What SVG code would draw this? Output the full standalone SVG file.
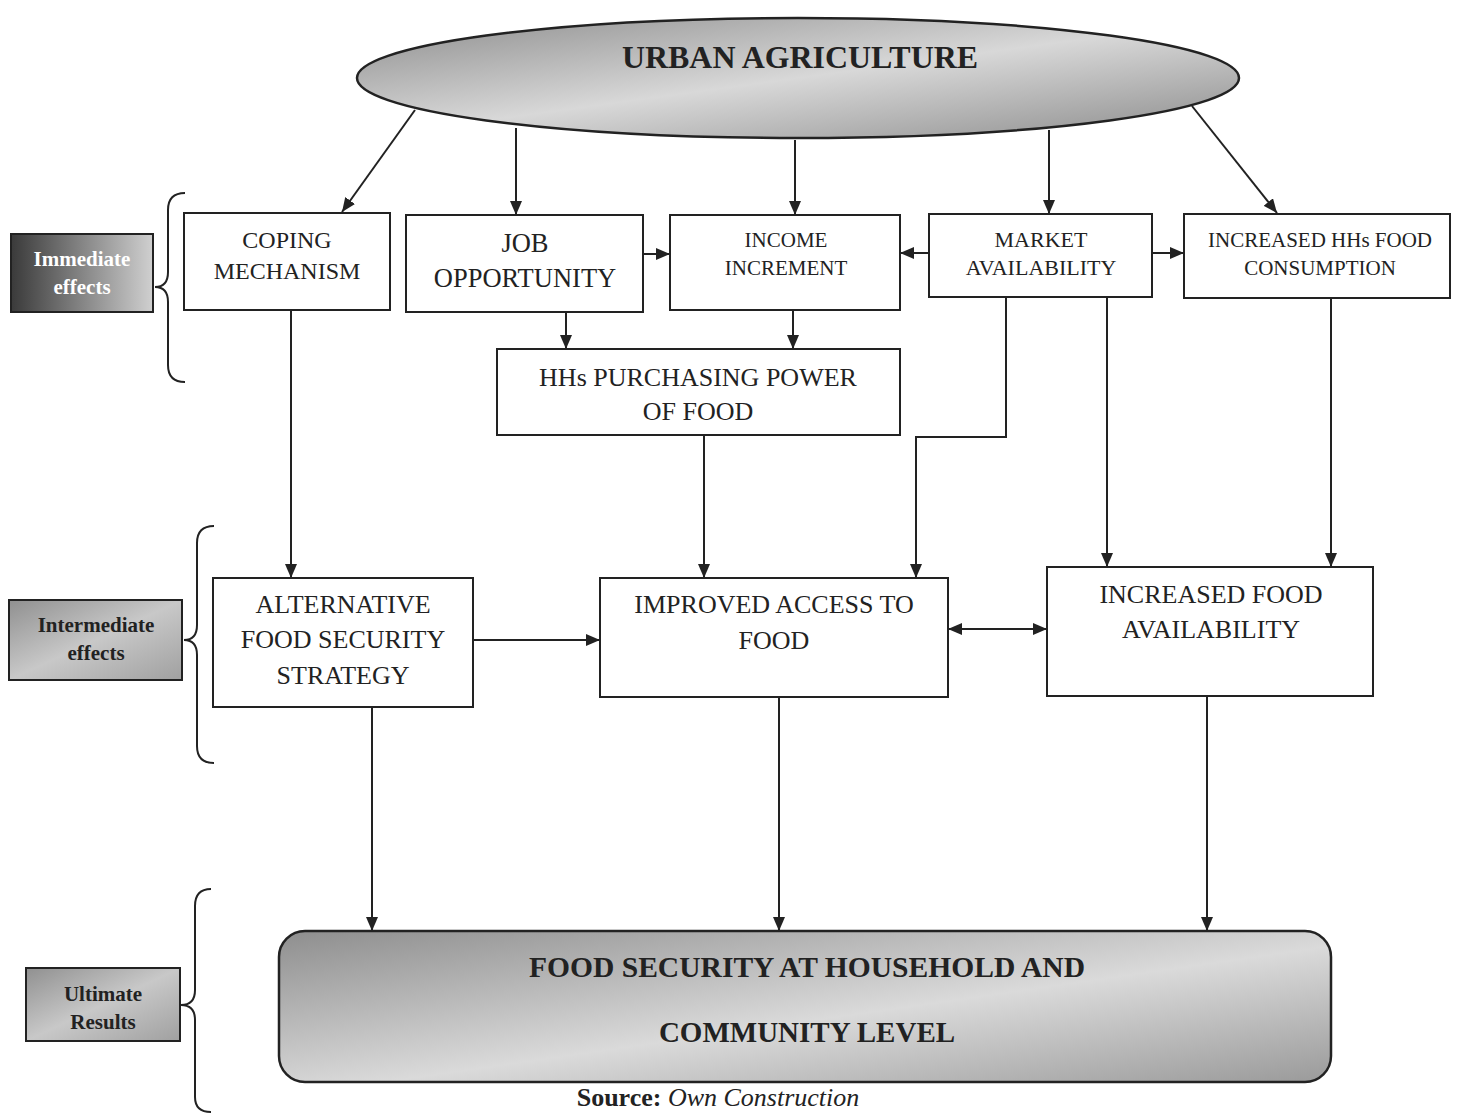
<svg xmlns="http://www.w3.org/2000/svg" width="1466" height="1114" viewBox="0 0 1466 1114">
<style>
.box{fill:#fff;stroke:#222;stroke-width:2}
.t{font-family:"Liberation Serif","Times New Roman",serif;fill:#222;text-anchor:middle}
.b{font-weight:bold}
.c{fill:none;stroke:#222;stroke-width:2}
.br{fill:none;stroke:#222;stroke-width:2}
</style>
<defs>
<marker id="ah" markerWidth="14" markerHeight="12" refX="14" refY="6" orient="auto" markerUnits="userSpaceOnUse">
<path d="M0,0 L14,6 L0,12 Z" fill="#222"/>
</marker>
<marker id="as" markerWidth="14" markerHeight="12" refX="0" refY="6" orient="auto" markerUnits="userSpaceOnUse">
<path d="M14,0 L0,6 L14,12 Z" fill="#222"/>
</marker>
<linearGradient id="gEll" x1="0" y1="0" x2="1" y2="1">
<stop offset="0" stop-color="#8c8c8c"/>
<stop offset="0.5" stop-color="#d8d8d8"/>
<stop offset="1" stop-color="#8a8a8a"/>
</linearGradient>
<linearGradient id="gFS" x1="0" y1="0" x2="1" y2="1">
<stop offset="0" stop-color="#8e8e8e"/>
<stop offset="0.55" stop-color="#dadada"/>
<stop offset="1" stop-color="#9a9a9a"/>
</linearGradient>
<linearGradient id="gImm" x1="0" y1="0" x2="1" y2="0">
<stop offset="0" stop-color="#3a3a3a"/>
<stop offset="1" stop-color="#d0d0d0"/>
</linearGradient>
<linearGradient id="gGray" x1="0" y1="0" x2="1" y2="1">
<stop offset="0" stop-color="#909090"/>
<stop offset="0.5" stop-color="#c8c8c8"/>
<stop offset="1" stop-color="#a0a0a0"/>
</linearGradient>
</defs>

<g id="connectors">
<line class="c" x1="415" y1="110" x2="342" y2="212" marker-end="url(#ah)"/>
<line class="c" x1="516" y1="128" x2="516" y2="215" marker-end="url(#ah)"/>
<line class="c" x1="795" y1="140" x2="795" y2="215" marker-end="url(#ah)"/>
<line class="c" x1="1049" y1="130" x2="1049" y2="214" marker-end="url(#ah)"/>
<line class="c" x1="1192" y1="106" x2="1277" y2="213" marker-end="url(#ah)"/>
<line class="c" x1="643" y1="254" x2="670" y2="254" marker-end="url(#ah)"/>
<line class="c" x1="929" y1="253" x2="900" y2="253" marker-end="url(#ah)"/>
<line class="c" x1="1152" y1="253" x2="1184" y2="253" marker-end="url(#ah)"/>
<line class="c" x1="566" y1="312" x2="566" y2="349" marker-end="url(#ah)"/>
<line class="c" x1="793" y1="310" x2="793" y2="349" marker-end="url(#ah)"/>
<line class="c" x1="291" y1="310" x2="291" y2="578" marker-end="url(#ah)"/>
<line class="c" x1="704" y1="435" x2="704" y2="578" marker-end="url(#ah)"/>
<polyline class="c" points="1006,297 1006,437 916,437 916,578" marker-end="url(#ah)"/>
<line class="c" x1="1107" y1="297" x2="1107" y2="567" marker-end="url(#ah)"/>
<line class="c" x1="1331" y1="298" x2="1331" y2="567" marker-end="url(#ah)"/>
<line class="c" x1="473" y1="640" x2="600" y2="640" marker-end="url(#ah)"/>
<line class="c" x1="948" y1="629" x2="1047" y2="629" marker-start="url(#as)" marker-end="url(#ah)"/>
<line class="c" x1="372" y1="707" x2="372" y2="931" marker-end="url(#ah)"/>
<line class="c" x1="779" y1="697" x2="779" y2="931" marker-end="url(#ah)"/>
<line class="c" x1="1207" y1="696" x2="1207" y2="931" marker-end="url(#ah)"/>
</g>

<g id="urban-agriculture">
<ellipse cx="798" cy="78" rx="441" ry="60" fill="url(#gEll)" stroke="#222" stroke-width="2.5"/>
<text class="t b" x="800" y="68" font-size="31" textLength="356" lengthAdjust="spacingAndGlyphs">URBAN AGRICULTURE</text>
</g>

<g id="coping">
<rect class="box" x="184" y="213" width="206" height="97"/>
<text class="t" x="287" y="248" font-size="24">COPING</text>
<text class="t" x="287" y="279" font-size="24">MECHANISM</text>
</g>

<g id="job">
<rect class="box" x="406" y="215" width="237" height="97"/>
<text class="t" x="525" y="252" font-size="26.5">JOB</text>
<text class="t" x="525" y="287" font-size="26.5">OPPORTUNITY</text>
</g>

<g id="income">
<rect class="box" x="670" y="215" width="230" height="95"/>
<text class="t" x="786" y="247" font-size="21">INCOME</text>
<text class="t" x="786" y="275" font-size="21">INCREMENT</text>
</g>

<g id="market">
<rect class="box" x="929" y="214" width="223" height="83"/>
<text class="t" x="1041" y="247" font-size="22">MARKET</text>
<text class="t" x="1041" y="275" font-size="22">AVAILABILITY</text>
</g>

<g id="consumption">
<rect class="box" x="1184" y="214" width="266" height="84"/>
<text class="t" x="1320" y="247" font-size="21">INCREASED HHs FOOD</text>
<text class="t" x="1320" y="275" font-size="21">CONSUMPTION</text>
</g>

<g id="purchasing">
<rect class="box" x="497" y="349" width="403" height="86"/>
<text class="t" x="698" y="386" font-size="26">HHs PURCHASING POWER</text>
<text class="t" x="698" y="420" font-size="26">OF FOOD</text>
</g>

<g id="alternative">
<rect class="box" x="213" y="578" width="260" height="129"/>
<text class="t" x="343" y="613" font-size="26">ALTERNATIVE</text>
<text class="t" x="343" y="648" font-size="26">FOOD SECURITY</text>
<text class="t" x="343" y="684" font-size="26">STRATEGY</text>
</g>

<g id="improved">
<rect class="box" x="600" y="578" width="348" height="119"/>
<text class="t" x="774" y="613" font-size="26">IMPROVED ACCESS TO</text>
<text class="t" x="774" y="649" font-size="26">FOOD</text>
</g>

<g id="availability">
<rect class="box" x="1047" y="567" width="326" height="129"/>
<text class="t" x="1211" y="603" font-size="26">INCREASED FOOD</text>
<text class="t" x="1211" y="638" font-size="26">AVAILABILITY</text>
</g>

<g id="food-security">
<rect x="279" y="931" width="1052" height="151" rx="26" ry="26" fill="url(#gFS)" stroke="#222" stroke-width="2.5"/>
<text class="t b" x="807" y="977" font-size="29" textLength="556" lengthAdjust="spacingAndGlyphs">FOOD SECURITY AT HOUSEHOLD AND</text>
<text class="t b" x="807" y="1042" font-size="29">COMMUNITY LEVEL</text>
</g>

<g id="label-immediate">
<rect x="11" y="234" width="142" height="78" fill="url(#gImm)" stroke="#222" stroke-width="2"/>
<text class="t b" x="82" y="266" font-size="21" style="fill:#fff">Immediate</text>
<text class="t b" x="82" y="294" font-size="21" style="fill:#fff">effects</text>
<path class="br" d="M185,193 Q168,193 168,210 L168,272 Q168,287 155,287 Q168,287 168,302 L168,365 Q168,382 185,382"/>
</g>

<g id="label-intermediate">
<rect x="9" y="600" width="173" height="80" fill="url(#gGray)" stroke="#222" stroke-width="2"/>
<text class="t b" x="96" y="632" font-size="21">Intermediate</text>
<text class="t b" x="96" y="660" font-size="21">effects</text>
<path class="br" d="M214,526 Q197,526 197,543 L197,625 Q197,640 184,640 Q197,640 197,655 L197,746 Q197,763 214,763"/>
</g>

<g id="label-ultimate">
<rect x="26" y="968" width="154" height="73" fill="url(#gGray)" stroke="#222" stroke-width="2"/>
<text class="t b" x="103" y="1001" font-size="21">Ultimate</text>
<text class="t b" x="103" y="1029" font-size="21">Results</text>
<path class="br" d="M211,889 Q195,889 195,906 L195,990 Q195,1005 181,1005 Q195,1005 195,1020 L195,1097 Q195,1112 211,1112"/>
</g>

<text class="t" x="718" y="1106" font-size="26"><tspan font-weight="bold">Source:</tspan> <tspan font-style="italic">Own Construction</tspan></text>
</svg>
